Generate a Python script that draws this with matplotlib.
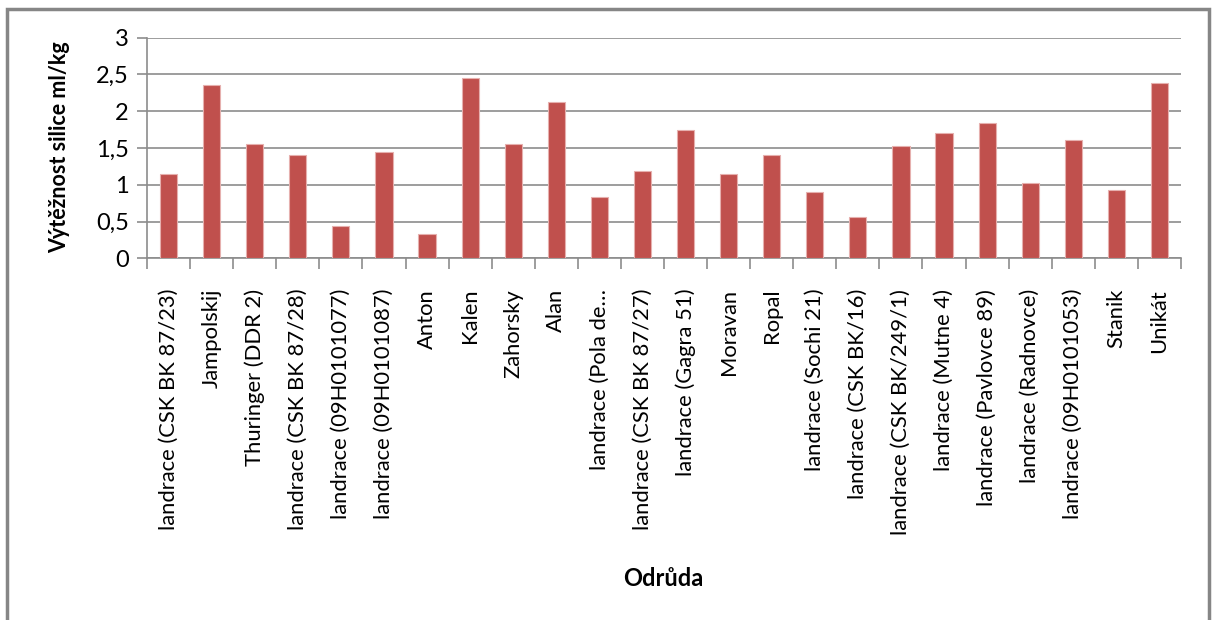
import numpy as np
import matplotlib
matplotlib.use('Agg')
import matplotlib.pyplot as plt
from matplotlib.patches import Rectangle

odrudy = ['landrace (CSK BK 87/23)', 'Jampolskij', 'Thuringer (DDR 2)',
          'landrace (CSK BK 87/28)', 'landrace (09H0101077)', 'landrace (09H0101087)',
          'Anton', 'Kalen', 'Zahorsky', 'Alan', 'landrace (Pola de\u2026',
          'landrace (CSK BK 87/27)', 'landrace (Gagra 51)', 'Moravan', 'Ropal',
          'landrace (Sochi 21)', 'landrace (CSK BK/16)', 'landrace (CSK BK/249/1)',
          'landrace (Mutne 4)', 'landrace (Pavlovce 89)', 'landrace (Radnovce)',
          'landrace (09H0101053)', 'Stanik', 'Unikát']
vyteznost = [1.14, 2.36, 1.55, 1.41, 0.44, 1.44,
             0.33, 2.45, 1.55, 2.12, 0.83,
             1.19, 1.75, 1.14, 1.40,
             0.90, 0.56, 1.53,
             1.71, 1.84, 1.03,
             1.61, 0.93, 2.39]
yticks = [0, 0.5, 1, 1.5, 2, 2.5, 3]
ytick_labels = ['0', '0,5', '1', '1,5', '2', '2,5', '3']

plt.rcParams['font.family'] = ['Lato', 'DejaVu Sans']
grid_col = '#8c8c8c'

fig = plt.figure(figsize=(12.12, 6.2), dpi=100)
ax = fig.add_axes([147 / 1212, 1 - 258.3 / 620, (1181 - 147) / 1212, (258.3 - 37.7) / 620])

x = np.arange(len(odrudy))
ax.bar(x, vyteznost, width=0.4, color='#C0504D', edgecolor='#E6B0AE', linewidth=0.8, zorder=3)

ax.set_xlim(-0.5, len(odrudy) - 0.5)
ax.set_ylim(0, 3)
ax.set_yticks(yticks)
ax.set_yticklabels(ytick_labels, fontsize=17)
ax.yaxis.grid(True, color=grid_col, linewidth=1.2, zorder=0)

# category ticks sit on the boundaries, labels centred under the bars
ax.set_xticks(np.arange(len(odrudy) + 1) - 0.5)
ax.set_xticklabels([])
ax.set_xticks(x, minor=True)
ax.set_xticklabels(odrudy, minor=True, rotation=90, fontsize=15.8)
ax.tick_params(axis='x', which='minor', length=0, pad=22)
ax.tick_params(axis='x', which='major', length=8, color=grid_col, width=1.2)
ax.tick_params(axis='y', length=7, color=grid_col, width=1.2, pad=6)

for s in ['top', 'right']:
    ax.spines[s].set_visible(False)
for s in ['left', 'bottom']:
    ax.spines[s].set_color(grid_col)
    ax.spines[s].set_linewidth(1.2)

fig.text(60 / 1212, 1 - 147 / 620, 'Výtěžnost silice ml/kg', rotation=90,
         ha='center', va='center', fontsize=15.5, fontweight='bold')
fig.text(663 / 1212, 1 - 578 / 620, 'Odrůda', ha='center', va='center',
         fontsize=17, fontweight='bold')

# chart frame
fig.patches.append(Rectangle((6.5 / 1212, -0.05), (1209 - 6.5) / 1212, (620 - 9) / 620 + 0.05,
                             transform=fig.transFigure, fill=False,
                             edgecolor='#868686', linewidth=2.5))

fig.savefig('out.png', dpi=100)
